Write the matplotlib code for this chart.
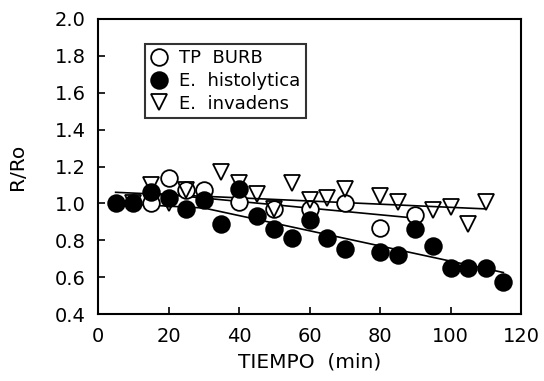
import numpy as np
import matplotlib.pyplot as plt

plt.rcParams['font.family'] = ['DejaVu Sans']

# TP BURB (open circles)
t_burb = [15, 20, 25, 30, 40, 50, 60, 70, 80, 90]
r_burb = [1.00, 1.14, 1.07, 1.07, 1.005, 0.97, 0.97, 1.00, 0.865, 0.935]

# E. histolytica (filled circles)
t_hist = [5, 10, 15, 20, 25, 30, 35, 40, 45, 50, 55, 60, 65, 70,
          80, 85, 90, 95, 100, 105, 110, 115]
r_hist = [1.00, 1.00, 1.06, 1.03, 0.97, 1.02, 0.89, 1.08, 0.93, 0.86, 0.81, 0.91, 0.81, 0.75,
          0.735, 0.72, 0.86, 0.77, 0.65, 0.65, 0.65, 0.575]

# E. invadens (down triangles)
t_inv = [10, 15, 20, 25, 35, 40, 45, 50, 55, 60, 65, 70, 80, 85, 95, 100, 105, 110]
r_inv = [1.00, 1.10, 1.00, 1.07, 1.17, 1.11, 1.05, 0.97, 1.11, 1.02, 1.03, 1.08,
         1.04, 1.01, 0.965, 0.98, 0.89, 1.01]

# fitted lines (endpoints)
fit_burb_t = [15, 90]
fit_burb_r = [1.056, 0.92]
fit_hist_t = [5, 30, 115]
fit_hist_r = [1.00, 0.975, 0.625]
fit_inv_t = [5, 110]
fit_inv_r = [1.06, 0.97]

fig = plt.figure(figsize=(5.44, 3.81), dpi=100)
ax = fig.add_axes([98/544, 1 - 314/381, 423/544, 295/381])

ax.plot(fit_burb_t, fit_burb_r, color='black', lw=1.2, zorder=1)
ax.plot(fit_hist_t, fit_hist_r, color='black', lw=1.2, zorder=1)
ax.plot(fit_inv_t, fit_inv_r, color='black', lw=1.2, zorder=1)

ax.plot(t_burb, r_burb, 'o', ms=12, mfc='white', mec='black', mew=1.3,
        label='TP  BURB', zorder=2)
ax.plot(t_hist, r_hist, 'o', ms=12, mfc='black', mec='black', mew=1.3,
        label='E.  histolytica', zorder=3)
ax.plot(t_inv, r_inv, 'v', ms=11, mfc='none', mec='black', mew=1.3,
        label='E.  invadens', zorder=4)

ax.set_xlim(0, 120)
ax.set_ylim(0.4, 2.0)
ax.set_xticks(np.arange(0, 121, 20))
ax.set_yticks(np.arange(0.4, 2.01, 0.2))
ax.set_yticklabels([f'{v:.1f}' for v in np.arange(0.4, 2.01, 0.2)])
ax.tick_params(direction='in', length=5, width=1.2, labelsize=14,
               top=False, right=False)
ax.tick_params(axis='x', pad=9)
ax.tick_params(axis='y', pad=9)
for s in ax.spines.values():
    s.set_linewidth(1.5)

ax.set_xlabel('TIEMPO  (min)', fontsize=14.5, labelpad=5)
ax.set_ylabel('R/Ro', fontsize=14.5, labelpad=20)

leg = ax.legend(loc='upper left', bbox_to_anchor=(0.111, 0.915), borderaxespad=0,
                fontsize=13, frameon=True, fancybox=False, handletextpad=0.6,
                handlelength=1.0, labelspacing=0.25, borderpad=0.3)
leg.get_frame().set_edgecolor('black')
leg.get_frame().set_linewidth(1.5)

fig.savefig('out.png', dpi=100)
